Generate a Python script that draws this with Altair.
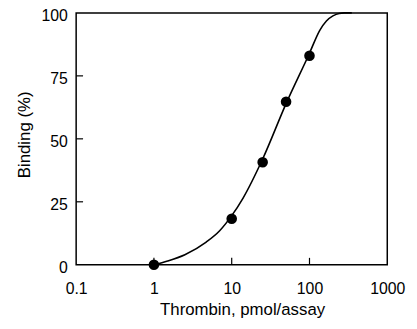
import altair as alt
import pandas as pd

# measured points
pt_x = [1, 10, 25, 50, 100]
pt_y = [0, 18.3, 40.7, 64.7, 83]

# fitted curve
curve_x = [1, 1.5, 2.5, 4.7, 7, 10, 14, 25, 50, 100, 135, 165, 200, 240, 280, 350]
curve_y = [0, 1.5, 4, 9, 13.5, 19.5, 26.5, 42, 64, 84, 93, 96.8, 98.8, 99.8, 100, 100]

x_ticks = [0.1, 1, 10, 100, 1000]
y_ticks = [0, 25, 50, 75, 100]
x_inner_ticks = [1, 10, 100]
y_inner_ticks = [25, 50, 75]

W, H = 315, 255
FONT = "Liberation Sans"

xscale = alt.Scale(type="log", domain=[0.1, 1000])
yscale = alt.Scale(domain=[0, 100])

xaxis = alt.Axis(values=x_ticks, format="~g", title="Thrombin, pmol/assay",
                 labelFont=FONT, labelFontSize=16, labelColor="black",
                 labelPadding=16, ticks=False, tickSize=0, domain=False, grid=False,
                 titleFont=FONT, titleFontSize=17, titleFontWeight="normal", titleColor="black",
                 titleX=168, titleY=50, titleBaseline="alphabetic", titleAlign="center",
                 labelFlush=False)
yaxis = alt.Axis(values=y_ticks, title="Binding (%)",
                 labelFont=FONT, labelFontSize=16, labelColor="black",
                 labelPadding=9, labelOffset=3, ticks=False, tickSize=0, domain=False, grid=False,
                 titleFont=FONT, titleFontSize=17, titleFontWeight="normal", titleColor="black",
                 titleX=-52, titleY=123, titleBaseline="middle", titleAlign="center",
                 labelFlush=False)

curve = pd.DataFrame({"x": curve_x, "y": curve_y})
pts = pd.DataFrame({"x": pt_x, "y": pt_y})
xt = pd.DataFrame({"x": x_inner_ticks})
yt = pd.DataFrame({"y": y_inner_ticks})

line = alt.Chart(curve).mark_line(color="black", strokeWidth=1.6, interpolate="monotone").encode(
    x=alt.X("x:Q", scale=xscale, axis=xaxis),
    y=alt.Y("y:Q", scale=yscale, axis=yaxis),
)
points = alt.Chart(pts).mark_point(filled=True, color="black", opacity=1, size=115).encode(
    x=alt.X("x:Q", scale=xscale),
    y=alt.Y("y:Q", scale=yscale),
)
xtick = alt.Chart(xt).mark_rule(color="black", strokeWidth=1.2).encode(
    x=alt.X("x:Q", scale=xscale),
    y=alt.value(H),
    y2=alt.value(H - 7),
)
ytick = alt.Chart(yt).mark_rule(color="black", strokeWidth=1.2).encode(
    y=alt.Y("y:Q", scale=yscale),
    x=alt.value(0),
    x2=alt.value(7),
)

chart = alt.layer(line, points, xtick, ytick).properties(
    width=W, height=H,
    autosize=alt.AutoSizeParams(type="none"),
    padding={"left": 69, "top": 3, "right": 22, "bottom": 58},
    background="white",
).configure_view(stroke="black", strokeWidth=1.5)

chart.save("out.html", embed_options={"renderer": "svg", "actions": False})
